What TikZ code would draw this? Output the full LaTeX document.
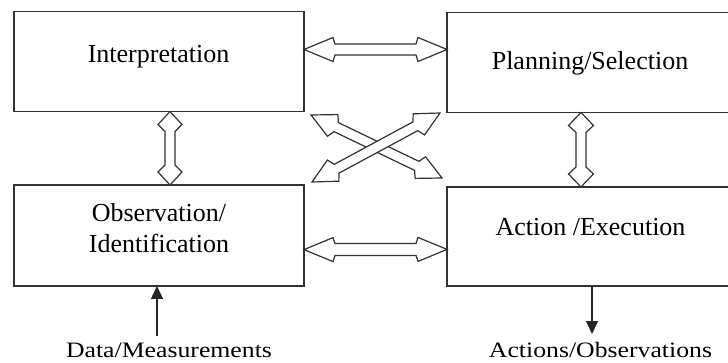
\documentclass[tikz,border=0pt]{standalone}
\usepackage{fontspec}
\setmainfont{Liberation Serif}
\usetikzlibrary{calc,arrows.meta}
% #1 start, #2 end, #3 barb distance, #4 head half width, #5 shaft half width, #6 shaft join distance
\newcommand\fatarrow[6]{%
  \filldraw[fatarr] (#1)
   -- ($(#1)!#3!(#2)!#4!90:(#2)$)
   -- ($(#1)!#6!(#2)!#5!90:(#2)$)
   -- ($(#2)!#6!(#1)!#5!90:(#2)$)
   -- ($(#2)!#3!(#1)!#4!90:(#2)$)
   -- (#2)
   -- ($(#2)!#3!(#1)!#4!-90:(#2)$)
   -- ($(#2)!#6!(#1)!#5!-90:(#2)$)
   -- ($(#1)!#6!(#2)!#5!-90:(#2)$)
   -- ($(#1)!#3!(#2)!#4!-90:(#2)$)
   -- cycle;}
\begin{document}
\begin{tikzpicture}[x=1pt,y=-1pt,
  box/.style={draw=black!80, line width=1.4pt, minimum width=290pt, minimum height=100pt, inner sep=0pt, outer sep=0pt},
  lbl/.style={font=\fontsize{26}{31}\selectfont, inner sep=0pt, anchor=base, align=center},
  io/.style={font=\fontsize{22}{26}\selectfont, inner sep=0pt, anchor=base},
  fatarr/.style={draw=black!80, line width=1.2pt, fill=white, line join=miter},
  ioarrow/.style={draw=black!85, line width=1.4pt, -{Triangle[length=13pt,width=12pt]}}]
\useasboundingbox (0,0) rectangle (728,363);
\clip (0,0) rectangle (728,363);
\node[box] (TL) at (159,61.5) {};
\node[box] (TR) at (592,62.5) {};
\node[box, minimum height=101pt] (BL) at (159,235.5) {};
\node[box, minimum height=99pt] (BR) at (592,236.5) {};
\node[lbl] (tTL) at (158.5,63) {Interpretation};
\node[lbl] (tTR) at (590,70) {Planning/Selection};
\node[lbl] (tBL) at (159,253) {Observation/\\Identification};
\node[lbl] (tBR) at (590.5,236) {Action /Execution};
\node[io] (din) at (169,357) {\scalebox{1.17}[1]{Data/Measurements}};
\node[io] (dout) at (600.5,357) {\scalebox{1.17}[1]{Actions/Observations}};
\coordinate (h1a) at ($(TL.north east)!0.38!(TL.south east)$);
\coordinate (h1b) at ($(TR.north west)!0.37!(TR.south west)$);
\coordinate (h2a) at ($(BL.north east)!0.64!(BL.south east)$);
\coordinate (h2b) at ($(BR.north west)!0.63!(BR.south west)$);
\coordinate (v1a) at ($(TL.south west)!0.5379!(TL.south east)$);
\coordinate (v1b) at ($(BL.north west)!0.5379!(BL.north east)$);
\coordinate (v2a) at ($(TR.south west)!0.462!(TR.south east)$);
\coordinate (v2b) at ($(BR.north west)!0.462!(BR.north east)$);
\coordinate (d1a) at (311,115);
\coordinate (d1b) at (442,178);
\coordinate (d2a) at (312,182);
\coordinate (d2b) at (440,113);
\fatarrow{h1a}{h1b}{29pt}{12pt}{5.5pt}{31pt}
\fatarrow{h2a}{h2b}{29pt}{12pt}{6pt}{31pt}
\fatarrow{v1a}{v1b}{13pt}{12pt}{5pt}{20pt}
\fatarrow{v2a}{v2b}{13pt}{12.5pt}{5pt}{20pt}
\fatarrow{d1a}{d1b}{24pt}{12pt}{5pt}{28pt}
\fatarrow{d2a}{d2b}{24pt}{12pt}{5pt}{28pt}
\coordinate (inS) at (157,336);
\draw[ioarrow] (inS) -- (inS |- BL.south);
\coordinate (outS) at (592,286);
\draw[ioarrow] (outS |- BR.south) -- (592,334);
\end{tikzpicture}
\end{document}
